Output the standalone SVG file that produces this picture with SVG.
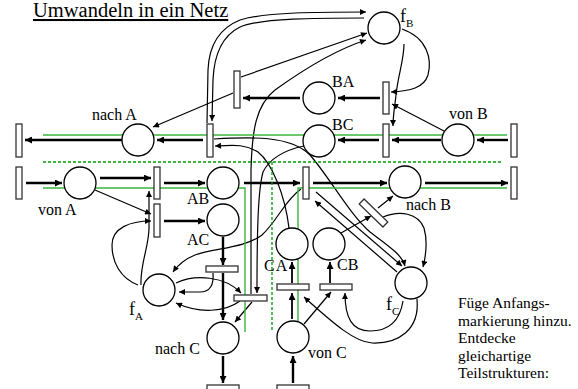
<svg xmlns="http://www.w3.org/2000/svg" width="578" height="389" viewBox="0 0 578 389">
<defs>
<style>
.pl{fill:#fff;stroke:#000;stroke-width:1.3}
.tr{fill:#fff;stroke:#333;stroke-width:1.3}
.th{fill:none;stroke:#000;stroke-width:2.4;marker-end:url(#ab)}
.tn{fill:none;stroke:#000;stroke-width:1.2;marker-end:url(#a)}
.gs{fill:none;stroke:#3db43d;stroke-width:1.4}
.gd{fill:none;stroke:#009a00;stroke-width:1.3;stroke-dasharray:3 2}
text{font-family:'Liberation Serif','Times New Roman',serif;fill:#000}
.lb{font-size:16px}
.nt{font-size:15.5px}
</style>
<marker id="a" viewBox="0 0 10 10" refX="10" refY="5" markerWidth="7" markerHeight="6" orient="auto" markerUnits="userSpaceOnUse"><path d="M0,0 L10,5 L0,10 z" fill="#000"/></marker>
<marker id="ab" viewBox="0 0 10 10" refX="10" refY="5" markerWidth="9" markerHeight="7" orient="auto" markerUnits="userSpaceOnUse"><path d="M0,0 L10,5 L0,10 z" fill="#000"/></marker>
</defs>
<rect width="578" height="389" fill="#fff"/>
<text x="33" y="17" font-size="20.5" font-family="Liberation Serif, serif" text-decoration="underline">Umwandeln in ein Netz</text>

<g id="connectors">
<path class="th" d="M122,140 L25,140"/>
<path class="th" d="M203,140 L157,140"/>
<path class="th" d="M379,140 L338,140"/>
<path class="th" d="M441,140 L392,140"/>
<path class="th" d="M508,140 L477,140"/>
<path class="th" d="M300,98 L243,98"/>
<path class="th" d="M380,98 L338,98"/>
<path class="th" d="M26,183 L62,183"/>
<path class="th" d="M100,178 L151,178"/>
<path class="th" d="M164,183 L205,183"/>
<path class="th" d="M244,183 L300,183"/>
<path class="th" d="M313,183 L387,183"/>
<path class="th" d="M425,183 L508,183"/>
<path class="th" d="M164,221 L205,221"/>
<path class="th" d="M223,237 L223,265"/>
<path class="th" d="M223,273 L223,320"/>
<path class="th" d="M223,356 L223,383"/>
<path class="th" d="M293,383 L293,356"/>
<path class="th" d="M292,319 L292,293" style="stroke-width:1.8"/>
<path class="th" d="M292,283 L292,262" style="stroke-width:1.8"/>
<path class="th" d="M330,283 L330,262" style="stroke-width:1.8"/>

<path class="tn" d="M95,190 L151,214"/>
<path class="tn" d="M444,131 L392,104"/>
<path class="tn" d="M233,93 L153,127"/>
<path class="tn" d="M241,77 L367,33"/>
<path class="tn" d="M402,29 C428,38 432,60 428,75 C424,88 410,91 391,92"/>
<path class="tn" d="M404,44 C404,60 398,75 396,95 C395,105 393,115 393,126"/>
<path class="tn" d="M364,18 C320,18 260,18 240,27 C222,36 214,55 213,80 L212,121"/>
<path class="tn" d="M207,123 L208,70 C209,45 220,28 240,20 C265,12 320,12 366,12"/>
<path class="tn" d="M214,139 C250,137 290,135 310,155 C330,178 350,215 370,232 C390,247 402,255 405,266"/>
<path class="tn" d="M289,228 C285,195 272,163 258,152 C245,144 235,145 215,146"/>
<path class="tn" d="M301,189 C285,200 278,220 262,235 C245,248 215,248 195,255 C185,259 178,265 173,272"/>
<path class="tn" d="M316,192 L402,266"/>
<path class="tn" d="M397,272 L315,201"/>
<path class="tn" d="M341,233 L371,216"/>
<path class="tn" d="M378,208 L393,196"/>
<path class="tn" d="M383,217 C400,210 418,213 424,228 C428,242 426,255 423,267"/>
<path class="tn" d="M141,285 C140,262 150,245 149,225 L149,191"/>
<path class="tn" d="M138,285 C120,278 112,262 112,245 C112,228 130,221 151,221"/>
<path class="tn" d="M213,273 C214,285 210,292 200,292 L179,292"/>
<path class="tn" d="M176,283 C195,274 225,276 241,293"/>
<path class="tn" d="M240,301 C225,312 200,314 176,303"/>
<path class="tn" d="M252,302 L235,322"/>
<path class="tn" d="M304,146 C285,150 270,158 263,172 C258,190 257,230 257,293"/>
<path class="tn" d="M251,294 L251,170 C252,130 256,105 275,90 C300,72 335,50 366,40"/>
<path class="tn" d="M304,324 L331,292"/>
<path class="tn" d="M417,299 C420,330 398,344 372,343 C355,342 335,325 304,297"/>
<path class="tn" d="M403,301 C400,320 390,331 370,331 C352,331 345,318 345,293"/>
</g>

<g id="guides">
<path class="gs" d="M43,135 L507,135"/>
<path class="gd" d="M43,162 L501,162"/>
<path class="gs" d="M43,188 L245,188 L245,332"/>
<path class="gs" d="M507,188 L298,188 L298,332"/>
<path class="gd" d="M272,162 L272,332"/>
</g>

<g id="places" font-family="Liberation Serif, serif">
<g id="p-fB"><circle class="pl" cx="384" cy="28" r="16"/><text x="400" y="22" font-size="18">f<tspan font-size="11" dy="5">B</tspan></text></g>
<g id="p-BA"><circle class="pl" cx="319" cy="98" r="16"/><text class="lb" x="332" y="87">BA</text></g>
<g id="p-BC"><circle class="pl" cx="319" cy="141" r="16"/><text class="lb" x="332" y="130">BC</text></g>
<g id="p-vonB"><circle class="pl" cx="458" cy="140" r="16"/><text class="lb" x="449" y="119">von B</text></g>
<g id="p-nachA"><circle class="pl" cx="138" cy="140" r="16"/><text class="lb" x="92" y="120">nach A</text></g>
<g id="p-vonA"><circle class="pl" cx="80" cy="183" r="16"/><text class="lb" x="38" y="215">von A</text></g>
<g id="p-AB"><circle class="pl" cx="223" cy="183" r="16"/><text class="lb" x="187" y="204">AB</text></g>
<g id="p-AC"><circle class="pl" cx="223" cy="220" r="16"/><text class="lb" x="187" y="245">AC</text></g>
<g id="p-nachB"><circle class="pl" cx="405" cy="182" r="16"/><text class="lb" x="406" y="210">nach B</text></g>
<g id="p-CA"><circle class="pl" cx="292" cy="244" r="16"/><text class="lb" x="264" y="271" letter-spacing="1">CA</text></g>
<g id="p-CB"><circle class="pl" cx="329" cy="244" r="16"/><text class="lb" x="337" y="270">CB</text></g>
<g id="p-fC"><circle class="pl" cx="411" cy="283" r="16"/><text x="386" y="310" font-size="18">f<tspan font-size="11" dy="5">C</tspan></text></g>
<g id="p-fA"><circle class="pl" cx="159" cy="290" r="16"/><text x="129" y="315" font-size="18">f<tspan font-size="11" dy="5">A</tspan></text></g>
<g id="p-nachC"><circle class="pl" cx="223" cy="338" r="16"/><text class="lb" x="155" y="354">nach C</text></g>
<g id="p-vonC"><circle class="pl" cx="293" cy="337" r="16"/><text class="lb" x="308" y="358">von C</text></g>
</g>

<g id="transitions">
<rect id="t1" class="tr" x="16" y="124" width="6" height="33"/>
<rect id="t2" class="tr" x="207" y="124" width="6" height="33"/>
<rect id="t3" class="tr" x="383" y="124" width="6" height="33"/>
<rect id="t4" class="tr" x="511" y="124" width="6" height="33"/>
<rect id="t5" class="tr" x="383" y="82" width="6" height="32"/>
<rect id="t6" class="tr" x="234" y="71" width="6" height="37"/>
<rect id="t7" class="tr" x="16" y="167" width="6" height="32"/>
<rect id="t8" class="tr" x="154" y="167" width="6" height="32"/>
<rect id="t9" class="tr" x="154" y="204" width="6" height="33"/>
<rect id="t10" class="tr" x="303" y="167" width="6" height="32"/>
<rect id="t11" class="tr" x="511" y="167" width="6" height="32"/>
<rect id="t12" class="tr" x="206" y="266" width="32" height="6"/>
<rect id="t13" class="tr" x="234" y="295" width="33" height="6"/>
<rect id="t14" class="tr" x="277" y="284" width="32" height="6"/>
<rect id="t15" class="tr" x="320" y="284" width="32" height="6"/>
<rect id="t16" class="tr" x="207" y="385" width="32" height="8"/>
<rect id="t17" class="tr" x="277" y="385" width="32" height="8"/>
<rect id="t18" class="tr" x="-16.5" y="-3.5" width="33" height="7" transform="translate(373.5,213) rotate(44)"/>
</g>

<g id="note" font-family="Liberation Serif, serif">
<text class="nt" x="458" y="308">Füge Anfangs-</text>
<text class="nt" x="458" y="325.5">markierung hinzu.</text>
<text class="nt" x="458" y="343">Entdecke</text>
<text class="nt" x="458" y="360.5">gleichartige</text>
<text class="nt" x="458" y="378">Teilstrukturen:</text>
</g>
</svg>
